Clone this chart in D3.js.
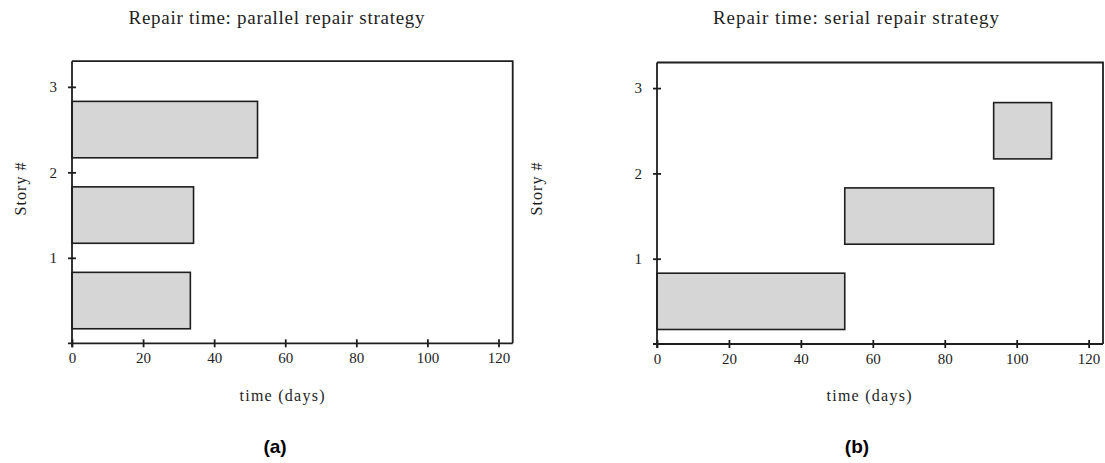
<!DOCTYPE html>
<html>
<head>
<meta charset="utf-8">
<script src="https://cdn.jsdelivr.net/npm/d3@7/dist/d3.min.js"></script>
<style>
  html, body { margin: 0; padding: 0; background: #fff; }
  svg { display: block; }
</style>
</head>
<body>
<svg id="chart" width="1105" height="463"></svg>
<script>
// ---- Data ----
const stories = [1, 2, 3];
const parallelStart = [0, 0, 0];
const parallelEnd = [33.3, 34.2, 52.2];
const serialStart = [0, 52.2, 93.6];
const serialEnd = [52.2, 93.6, 109.7];
const xTicks = [0, 20, 40, 60, 80, 100, 120];
const yTicks = [1, 2, 3];
const titles = ["Repair time: parallel repair strategy", "Repair time: serial repair strategy"];
const panelLabels = ["(a)", "(b)"];
const xLabel = "time (days)";
const yLabel = "Story #";

const svg = d3.select("#chart");
const ink = "#1e1e1e";
const serif = "'Liberation Serif', 'Times New Roman', serif";

const panels = [
  { left: 72, right: 512.7, top: 61.2, bottom: 343.3, starts: parallelStart, ends: parallelEnd,
    titleX: 276.5, titleW: 296, xLabX: 282, yLabX: 26, subX: 275 },
  { left: 657, right: 1103, top: 62.5, bottom: 344, starts: serialStart, ends: serialEnd,
    titleX: 856, titleW: 286, xLabX: 869, yLabX: 542, subX: 857 }
];

panels.forEach((p, i) => {
  const g = svg.append("g");
  const x = d3.scaleLinear().domain([0, 124]).range([p.left, p.right]);
  const y = d3.scaleLinear().domain([0, 3.3]).range([p.bottom, p.top]);

  // bars
  const bars = stories.map((s, k) => ({ s, x0: p.starts[k], x1: p.ends[k] }));
  g.selectAll("rect.bar").data(bars).join("rect")
    .attr("class", "bar")
    .attr("x", d => x(d.x0))
    .attr("width", d => x(d.x1) - x(d.x0))
    .attr("y", d => y(d.s - 0.17))
    .attr("height", d => y(d.s - 0.83) - y(d.s - 0.17))
    .attr("fill", "#d6d6d6")
    .attr("stroke", ink)
    .attr("stroke-width", 1.6);

  // frame (top and right)
  g.append("path")
    .attr("d", `M${p.left},${p.top}H${p.right}V${p.bottom}`)
    .attr("fill", "none").attr("stroke", ink).attr("stroke-width", 1.8);

  // x axis
  const xAxis = d3.axisBottom(x).tickValues(xTicks).tickFormat(d3.format("d"))
    .tickSizeInner(0).tickSizeOuter(0).tickPadding(0);
  const gx = g.append("g").attr("transform", `translate(0,${p.bottom})`).call(xAxis);
  gx.select(".domain").remove();
  gx.append("line").attr("x1", p.left - 4).attr("x2", p.right).attr("y1", 0).attr("y2", 0)
    .attr("stroke", ink).attr("stroke-width", 1.8);
  gx.selectAll(".tick").append("line").attr("y1", -4).attr("y2", 4)
    .attr("stroke", ink).attr("stroke-width", 1.8);
  gx.selectAll(".tick text")
    .attr("y", 20).attr("dy", null)
    .attr("fill", ink)
    .style("font-family", serif).style("font-size", "15px");

  // y axis
  const yAxis = d3.axisLeft(y).tickValues(yTicks).tickFormat(d3.format("d"))
    .tickSizeInner(0).tickSizeOuter(0).tickPadding(0);
  const gy = g.append("g").attr("transform", `translate(${p.left},0)`).call(yAxis);
  gy.select(".domain").remove();
  gy.append("line").attr("x1", 0).attr("x2", 0).attr("y1", p.top).attr("y2", p.bottom + 4)
    .attr("stroke", ink).attr("stroke-width", 1.8);
  gy.selectAll(".tick").append("line").attr("x1", -4).attr("x2", 4)
    .attr("stroke", ink).attr("stroke-width", 1.8);
  gy.selectAll(".tick text")
    .attr("x", -15).attr("dy", "0.32em")
    .attr("fill", ink)
    .style("font-family", serif).style("font-size", "15px");

  // title
  g.append("text").attr("x", p.titleX).attr("y", 24)
    .attr("text-anchor", "middle").attr("fill", ink)
    .attr("textLength", p.titleW).attr("lengthAdjust", "spacing")
    .style("font-family", serif).style("font-size", "19px")
    .text(titles[i]);

  // x label
  g.append("text").attr("x", p.xLabX).attr("y", 401)
    .attr("text-anchor", "middle").attr("fill", ink)
    .attr("textLength", 85).attr("lengthAdjust", "spacing")
    .style("font-family", serif).style("font-size", "16px")
    .text(xLabel);

  // y label
  g.append("text")
    .attr("transform", `translate(${p.yLabX},${189}) rotate(-90)`)
    .attr("text-anchor", "middle").attr("fill", ink)
    .attr("textLength", 53).attr("lengthAdjust", "spacing")
    .style("font-family", serif).style("font-size", "16px")
    .text(yLabel);

  // subfigure label
  g.append("text").attr("x", p.subX).attr("y", 453)
    .attr("text-anchor", "middle").attr("fill", "#000")
    .style("font-family", "'Liberation Sans', Arial, sans-serif").style("font-size", "19px")
    .style("font-weight", "bold")
    .text(panelLabels[i]);
});
</script>
</body>
</html>
